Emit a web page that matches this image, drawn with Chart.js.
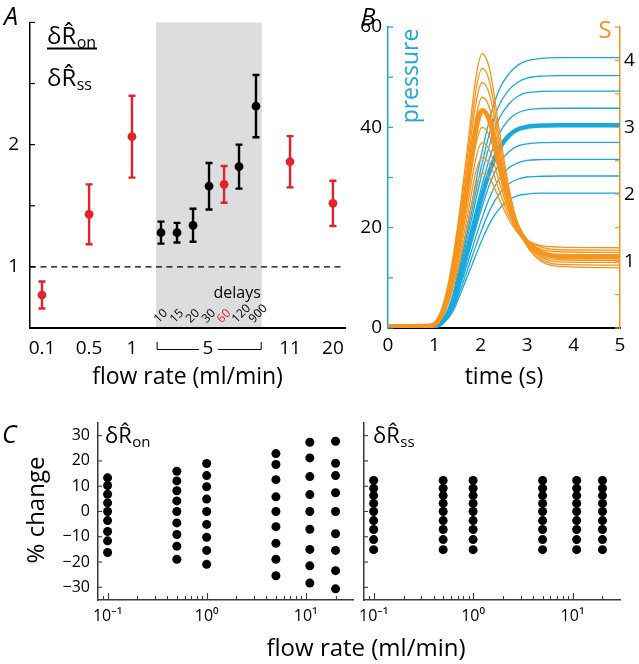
<!DOCTYPE html>
<html>
<head>
<meta charset="utf-8">
<script src="https://cdn.jsdelivr.net/npm/chart.js@4.4.1/dist/chart.umd.min.js"></script>
<style>
html,body{margin:0;padding:0;background:#fff;}
#wrap{position:relative;width:639px;height:664px;overflow:hidden;background:#fff;}
#wrap canvas{position:absolute;left:0;top:0;}
</style>
</head>
<body>
<div id="wrap">
<canvas id="cA" width="639" height="664"></canvas>
<canvas id="cB" width="639" height="664"></canvas>
<canvas id="cC1" width="639" height="664"></canvas>
<canvas id="cC2" width="639" height="664"></canvas>
</div>
<script>
const FONT = "'Open Sans', 'Noto Sans', 'DejaVu Sans', sans-serif";
const RED = '#E2232A', CYAN = '#1AA8DE', ORANGE = '#F7941D', AXGRAY = '#3a3a3a';

// ---------- Panel A data ----------
const flowCats    = ['0.1','0.5','1','5','5','5','5','5','5','5','11','20'];
const delayLabels = ['','','','10','15','20','30','60','120','900','',''];
const ratioMean   = [0.77,1.43,2.065,1.28,1.28,1.34,1.66,1.675,1.82,2.315,1.86,1.52];
const ratioErr    = [0.11,0.245,0.335,0.09,0.08,0.135,0.19,0.15,0.18,0.255,0.21,0.185];
const redPoint    = [1,1,1,0,0,0,0,1,0,0,1,1];
const aTickLabels = ['0.1','0.5','1','5','11','20'];
const aYLabels    = [1, 2];
// layout: slot positions along panel A's categorical axis
const slotPos    = [0,3,5.73,7.58,8.6,9.62,10.64,11.6,12.55,13.63,15.8,18.53];
const aTickSlots = [0,3,5.73,10.57,15.8,18.53];
const shadeSlots = [7.26,14.0];
const bracketSlots = [7.3,13.93];

// ---------- Panel B data ----------
const timeS = [0,0.9,1.1,1.3,1.5,1.7,1.9,2.03,2.2,2.4,2.6,2.8,3.0,3.3,3.7,5];
const sCurves = [
 [0.02,0.03,0.16,0.66,1.52,2.62,3.77,4.10,3.84,2.95,2.12,1.54,1.22,1.00,0.92,0.90],
 [0.02,0.03,0.16,0.62,1.44,2.48,3.57,3.88,3.65,2.82,2.06,1.53,1.23,1.03,0.95,0.94],
 [0.02,0.03,0.15,0.59,1.36,2.35,3.38,3.67,3.46,2.70,2.00,1.52,1.25,1.06,0.99,0.98],
 [0.02,0.03,0.14,0.55,1.28,2.21,3.17,3.45,3.26,2.57,1.94,1.50,1.25,1.08,1.02,1.01],
 [0.02,0.03,0.13,0.52,1.20,2.08,2.99,3.25,3.08,2.46,1.89,1.50,1.28,1.13,1.07,1.06],
 [0.02,0.03,0.12,0.48,1.11,1.92,2.76,3.00,2.85,2.31,1.82,1.48,1.29,1.15,1.10,1.095],
 [0.02,0.03,0.11,0.44,1.02,1.77,2.55,2.77,2.64,2.18,1.75,1.46,1.29,1.18,1.14,1.13],
 [0.02,0.03,0.10,0.41,0.94,1.63,2.35,2.55,2.44,2.05,1.69,1.44,1.30,1.21,1.17,1.165],
 [0.02,0.03,0.09,0.37,0.86,1.48,2.13,2.32,2.23,1.92,1.63,1.42,1.31,1.23,1.21,1.20]
];
const sThick = 4;
const timeP = [0,0.9,1.05,1.2,1.4,1.6,1.8,2.0,2.2,2.4,2.6,2.8,3.0,3.3,3.7,5];
const pCurves = [
 [0.3,0.3,0.5,2.0,6.7,15.4,24.7,34.0,42.0,47.6,50.6,52.4,53.3,53.75,53.9,53.9],
 [0.3,0.3,0.45,1.9,6.2,14.3,23.0,31.7,39.2,44.5,47.4,49.0,49.8,50.2,50.3,50.3],
 [0.3,0.3,0.44,1.75,5.9,13.5,21.6,29.8,36.8,41.8,44.6,46.2,46.9,47.15,47.2,47.2],
 [0.3,0.3,0.42,1.6,5.4,12.5,20.1,27.6,34.2,38.8,41.5,42.9,43.5,43.75,43.8,43.8],
 [0.3,0.3,0.4,1.5,5.0,11.5,18.5,25.5,31.5,35.8,38.3,39.6,40.1,40.35,40.4,40.4],
 [0.3,0.3,0.39,1.37,4.6,10.5,16.9,23.3,28.9,32.8,35.1,36.3,36.7,36.95,37,37],
 [0.3,0.3,0.37,1.24,4.2,9.6,15.4,21.2,26.2,29.8,31.9,32.9,33.4,33.55,33.6,33.6],
 [0.3,0.3,0.35,1.12,3.8,8.6,13.9,19.1,23.6,26.8,28.7,29.7,30.1,30.25,30.3,30.3],
 [0.3,0.3,0.33,1.0,3.3,7.7,12.3,17.0,21.0,23.8,25.5,26.4,26.7,26.87,26.9,26.9]
];
const pThick = 4;

// ---------- Panel C data ----------
const cFlows = [0.1, 0.5, 1, 5, 11, 20];
const onChange = [
 [13.3,10.3,6.8,3.4,0,-3.6,-7.9,-11.6,-16.2],
 [15.9,12.1,8.2,4.2,0,-4.5,-9.1,-13.7,-18.9],
 [19.0,14.2,9.8,4.9,0,-5.1,-10.2,-15.4,-20.9],
 [22.9,18.6,12.6,5.8,0,-6.0,-12.6,-18.9,-25.4],
 [27.4,21.2,13.8,6.7,0,-7.0,-15.0,-21.5,-28.3],
 [27.8,19.1,14.2,7.4,0,-8.8,-15.4,-23.4,-30.6]
];
const ssChange = [
 [12.3,9.2,6.3,3.2,0,-3.6,-7.1,-11.1,-15.1],
 [12.3,9.2,6.3,3.2,0,-3.6,-7.1,-11.1,-15.1],
 [12.3,9.2,6.3,3.2,0,-3.6,-7.1,-11.1,-15.1],
 [12.3,9.2,6.3,3.2,0,-3.6,-7.1,-11.1,-15.1],
 [12.3,9.2,6.3,3.2,0,-3.6,-7.1,-11.1,-15.1],
 [12.3,9.2,6.3,3.2,0,-3.6,-7.1,-11.1,-15.1]
];
const cYTicks = [-30,-20,-10,0,10,20,30];
const cXMajor = [0.1,1,10];
const cXMajorLabels = ['10\u207B\u00B9','10\u2070','10\u00B9'];
const cXMinor = [0.09,0.2,0.3,0.4,0.5,0.6,0.7,0.8,0.9,2,3,4,5,6,7,8,9,20];

Chart.defaults.font.family = FONT;
Chart.defaults.color = '#000';

function base(padding){
  return {responsive:false, animation:false, events:[], devicePixelRatio:1,
    plugins:{legend:{display:false}, tooltip:{enabled:false}},
    layout:{padding}};
}
function txt(ctx, s, x, y, o={}){
  ctx.save();
  ctx.font = `${o.style||''} ${o.size||20}px ${FONT}`;
  ctx.fillStyle = o.color||'#000';
  ctx.textAlign = o.align||'left';
  ctx.textBaseline = o.base||'alphabetic';
  ctx.translate(x,y); ctx.rotate(o.rot||0);
  ctx.fillText(s,0,0);
  ctx.restore();
}
function rhat(ctx, sub, x, y, size, subSize){
  ctx.save();
  ctx.fillStyle='#000'; ctx.textAlign='left'; ctx.textBaseline='alphabetic';
  ctx.font = `${size}px ${FONT}`;
  const main = '\u03B4R\u0302';
  ctx.fillText(main, x, y);
  const w = ctx.measureText(main).width;
  ctx.font = `${subSize}px ${FONT}`;
  ctx.fillText(sub, x+w+0.5, y+3.5);
  ctx.restore();
}

// ---------- Panel A ----------
const panelA = {
  id:'panelA',
  beforeDraw(chart){
    const {ctx, chartArea:ca, scales:{x}} = chart;
    const x0 = x.getPixelForValue(shadeSlots[0]), x1 = x.getPixelForValue(shadeSlots[1]);
    ctx.save(); ctx.fillStyle='#DCDDDF'; ctx.fillRect(x0, ca.top, x1-x0, ca.bottom-ca.top-1); ctx.restore();
  },
  beforeDatasetsDraw(chart){
    const {ctx, chartArea:ca, scales:{x,y}} = chart;
    ctx.save();
    const y1 = y.getPixelForValue(1);
    ctx.strokeStyle='#000'; ctx.lineWidth=1.2; ctx.setLineDash([6,4.5]);
    ctx.beginPath(); ctx.moveTo(ca.left,y1); ctx.lineTo(ca.right,y1); ctx.stroke();
    ctx.setLineDash([]);
    ratioMean.forEach((m,i)=>{
      const px = x.getPixelForValue(slotPos[i]);
      const t = y.getPixelForValue(m+ratioErr[i]), b = y.getPixelForValue(m-ratioErr[i]);
      ctx.strokeStyle = redPoint[i] ? RED : '#000'; ctx.lineWidth = 2.4;
      ctx.beginPath();
      ctx.moveTo(px,t); ctx.lineTo(px,b);
      ctx.moveTo(px-3.5,t); ctx.lineTo(px+3.5,t);
      ctx.moveTo(px-3.5,b); ctx.lineTo(px+3.5,b);
      ctx.stroke();
    });
    ctx.strokeStyle='#000'; ctx.lineWidth=1.2;
    [1,1.5,2,2.5,3].forEach(v=>{
      const py = y.getPixelForValue(v);
      ctx.beginPath(); ctx.moveTo(ca.left,py); ctx.lineTo(ca.left+5,py); ctx.stroke();
    });
    ctx.restore();
  },
  afterDraw(chart){
    const {ctx, chartArea:ca, scales:{x}} = chart;
    delayLabels.forEach((d,i)=>{
      if(!d) return;
      const px = x.getPixelForValue(slotPos[i]);
      txt(ctx, d, px-5, 321, {size:12, color: redPoint[i]?RED:'#000', base:'middle', rot:-Math.PI/4});
    });
    const xs1 = x.getPixelForValue(shadeSlots[1]);
    txt(ctx, 'delays', xs1-1, 293, {size:16, align:'right', base:'middle'});
    // bracket under the delay group
    const b0 = x.getPixelForValue(bracketSlots[0]), b1 = x.getPixelForValue(bracketSlots[1]);
    const bc = x.getPixelForValue(aTickSlots[3]);
    ctx.save(); ctx.strokeStyle='#000'; ctx.lineWidth=1;
    ctx.beginPath();
    ctx.moveTo(b0+0.5,342); ctx.lineTo(b0+0.5,349.5); ctx.lineTo(bc-9,349.5);
    ctx.moveTo(bc+10,349.5); ctx.lineTo(b1+0.5,349.5); ctx.lineTo(b1+0.5,342);
    ctx.stroke(); ctx.restore();
    // y-axis label (fraction)
    rhat(ctx,'on',47,44,24,16);
    ctx.save(); ctx.fillStyle='#000'; ctx.fillRect(47,47.5,50,2); ctx.restore();
    rhat(ctx,'ss',47,86,24,16);
    txt(ctx,'A',4,25,{size:25,style:'italic'});
    txt(ctx,'flow rate (ml/min)',(ca.left+ca.right)/2,384,{size:23,align:'center'});
  }
};

new Chart(document.getElementById('cA'), {
  type:'scatter',
  data:{datasets:[{
    data: slotPos.map((s,i)=>({x:s, y:ratioMean[i]})),
    pointRadius:4.4, pointBorderWidth:0,
    pointBackgroundColor: redPoint.map(r=>r?RED:'#000')
  }]},
  options: Object.assign(base({left:0, top:22, right:294, bottom:264}), {
    scales:{
      x:{type:'linear', min:-0.764, max:19.3,
         grid:{display:false, drawTicks:false}, border:{color:'#000', width:2},
         afterBuildTicks:(sc)=>{ sc.ticks = aTickSlots.map(v=>({value:v})); },
         ticks:{autoSkip:false, maxRotation:0, padding:9, font:{size:19}, color:'#000',
                callback:(v,i)=>aTickLabels[i]},
         afterFit:(sc)=>{ sc.height = 72; }},
      y:{min:0.5, max:3,
         grid:{display:false, drawTicks:false}, border:{color:'#000', width:1.5},
         ticks:{stepSize:0.5, padding:11, font:{size:19}, color:'#000',
                callback:(v)=> aYLabels.includes(v) ? String(v) : ''},
         afterFit:(sc)=>{ sc.width = 30; }}
    }
  }),
  plugins:[panelA]
});

// ---------- Panel B ----------
const panelB = {
  id:'panelB',
  afterDatasetsDraw(chart){
    const {ctx, chartArea:ca, scales:{y,y2}} = chart;
    ctx.save(); ctx.lineWidth=1.2;
    ctx.strokeStyle = CYAN;
    for(let v=0; v<=60; v+=10){
      const py = y.getPixelForValue(v);
      ctx.beginPath(); ctx.moveTo(ca.left,py); ctx.lineTo(ca.left+5,py); ctx.stroke();
    }
    ctx.strokeStyle = ORANGE;
    for(let v=0; v<=4.5; v+=0.5){
      const py = y2.getPixelForValue(v);
      ctx.beginPath(); ctx.moveTo(ca.right,py); ctx.lineTo(ca.right-5,py); ctx.stroke();
    }
    ctx.restore();
  },
  afterDraw(chart){
    const {ctx, chartArea:ca} = chart;
    txt(ctx,'pressure',411,76,{size:23,color:CYAN,align:'center',base:'middle',rot:-Math.PI/2});
    txt(ctx,'S',605,38,{size:24,color:ORANGE,align:'center'});
    txt(ctx,'B',361,25,{size:24,style:'italic'});
    txt(ctx,'time (s)',(ca.left+ca.right)/2,384,{size:23,align:'center'});
  }
};

const bSets = [];
sCurves.forEach((arr,k)=>{
  bSets.push({yAxisID:'y2', showLine:true, pointRadius:0, borderColor:ORANGE,
    borderWidth: k===sThick ? 5 : 1.3, cubicInterpolationMode:'monotone',
    data: timeS.map((t,j)=>({x:t, y:arr[j]}))});
});
pCurves.forEach((arr,k)=>{
  bSets.push({yAxisID:'y', showLine:true, pointRadius:0, borderColor:CYAN,
    borderWidth: k===pThick ? 4.5 : 1.3, cubicInterpolationMode:'monotone',
    data: timeP.map((t,j)=>({x:t, y:arr[j]}))});
});

new Chart(document.getElementById('cB'), {
  type:'scatter',
  data:{datasets:bSets},
  options: Object.assign(base({left:0, top:27, right:0, bottom:264}), {
    scales:{
      x:{type:'linear', min:0, max:5,
         grid:{display:false, drawTicks:false}, border:{color:'#000', width:2},
         ticks:{stepSize:1, padding:6, font:{size:19}, color:'#000', maxRotation:0},
         afterFit:(sc)=>{ sc.height = 72; }},
      y:{position:'left', min:0, max:60,
         grid:{display:false, drawTicks:false}, border:{color:CYAN, width:1.5},
         ticks:{stepSize:10, padding:6, font:{size:19}, color:'#000',
                callback:(v)=> v%20===0 ? String(v) : ''},
         afterFit:(sc)=>{ sc.width = 388; }},
      y2:{position:'right', min:0, max:4.5,
         grid:{display:false, drawTicks:false}, border:{color:ORANGE, width:1.5},
         ticks:{stepSize:0.5, padding:4, font:{size:19}, color:'#000',
                callback:(v)=> Number.isInteger(v) && v>0 ? String(v) : ''},
         afterFit:(sc)=>{ sc.width = 19; }}
    }
  }),
  plugins:[panelB]
});

// ---------- Panel C ----------
function cPlugin(sub, tx, extra){
  return {
    id:'panelC'+sub,
    afterDatasetsDraw(chart){
      const {ctx, chartArea:ca, scales:{x,y}} = chart;
      ctx.save(); ctx.strokeStyle=AXGRAY; ctx.lineWidth=1.1;
      cYTicks.forEach(v=>{
        const py = y.getPixelForValue(v);
        ctx.beginPath(); ctx.moveTo(ca.left,py); ctx.lineTo(ca.left+4,py); ctx.stroke();
      });
      cXMajor.forEach(v=>{
        const px = Math.round(x.getPixelForValue(v))+0.5;
        ctx.beginPath(); ctx.moveTo(px,ca.bottom); ctx.lineTo(px,ca.bottom-7); ctx.stroke();
      });
      cXMinor.forEach(v=>{
        const px = Math.round(x.getPixelForValue(v))+0.5;
        ctx.beginPath(); ctx.moveTo(px,ca.bottom); ctx.lineTo(px,ca.bottom-4); ctx.stroke();
      });
      ctx.restore();
    },
    afterDraw(chart){
      const {ctx} = chart;
      rhat(ctx, sub, tx, 443, 22, 15);
      if(extra) extra(ctx);
    }
  };
}
function cConfig(values, padRight, yWidth, showY, plugin){
  const pts = [];
  cFlows.forEach((f,i)=> values[i].forEach(v=> pts.push({x:f, y:v})));
  return {
    type:'scatter',
    data:{datasets:[{data:pts, pointRadius:4.5, pointBorderWidth:0, pointBackgroundColor:'#000'}]},
    options: Object.assign(base({left:0, top:423, right:padRight, bottom:0}), {
      scales:{
        x:{type:'logarithmic', min:0.08, max:30,
           grid:{display:false, drawTicks:false}, border:{color:AXGRAY, width:1.5},
           afterBuildTicks:(sc)=>{ sc.ticks = cXMajor.map(v=>({value:v})); },
           ticks:{autoSkip:false, maxRotation:0, padding:7, font:{size:16}, color:'#000',
                  callback:(v,i)=>cXMajorLabels[i]},
           afterFit:(sc)=>{ sc.height = 64; }},
        y:{min:-35, max:35,
           grid:{display:false, drawTicks:false}, border:{color:AXGRAY, width:1.5},
           afterBuildTicks:(sc)=>{ sc.ticks = cYTicks.map(v=>({value:v})); },
           ticks:{display:showY, padding:8, font:{size:16}, color:'#000',
                  callback:(v)=> v<0 ? '\u2212'+Math.abs(v) : String(v)},
           afterFit:(sc)=>{ sc.width = yWidth; }}
      }
    }),
    plugins:[plugin]
  };
}
new Chart(document.getElementById('cC1'), cConfig(onChange, 286, 98, true,
  cPlugin('on', 105, (ctx)=>{
    txt(ctx,'C',2,443,{size:25,style:'italic'});
    txt(ctx,'% change',37,510,{size:24,align:'center',base:'middle',rot:-Math.PI/2});
    txt(ctx,'flow rate (ml/min)',366,656,{size:24,align:'center'});
  })));
new Chart(document.getElementById('cC2'), cConfig(ssChange, 19, 364, false,
  cPlugin('ss', 373, null)));
</script>
</body>
</html>
